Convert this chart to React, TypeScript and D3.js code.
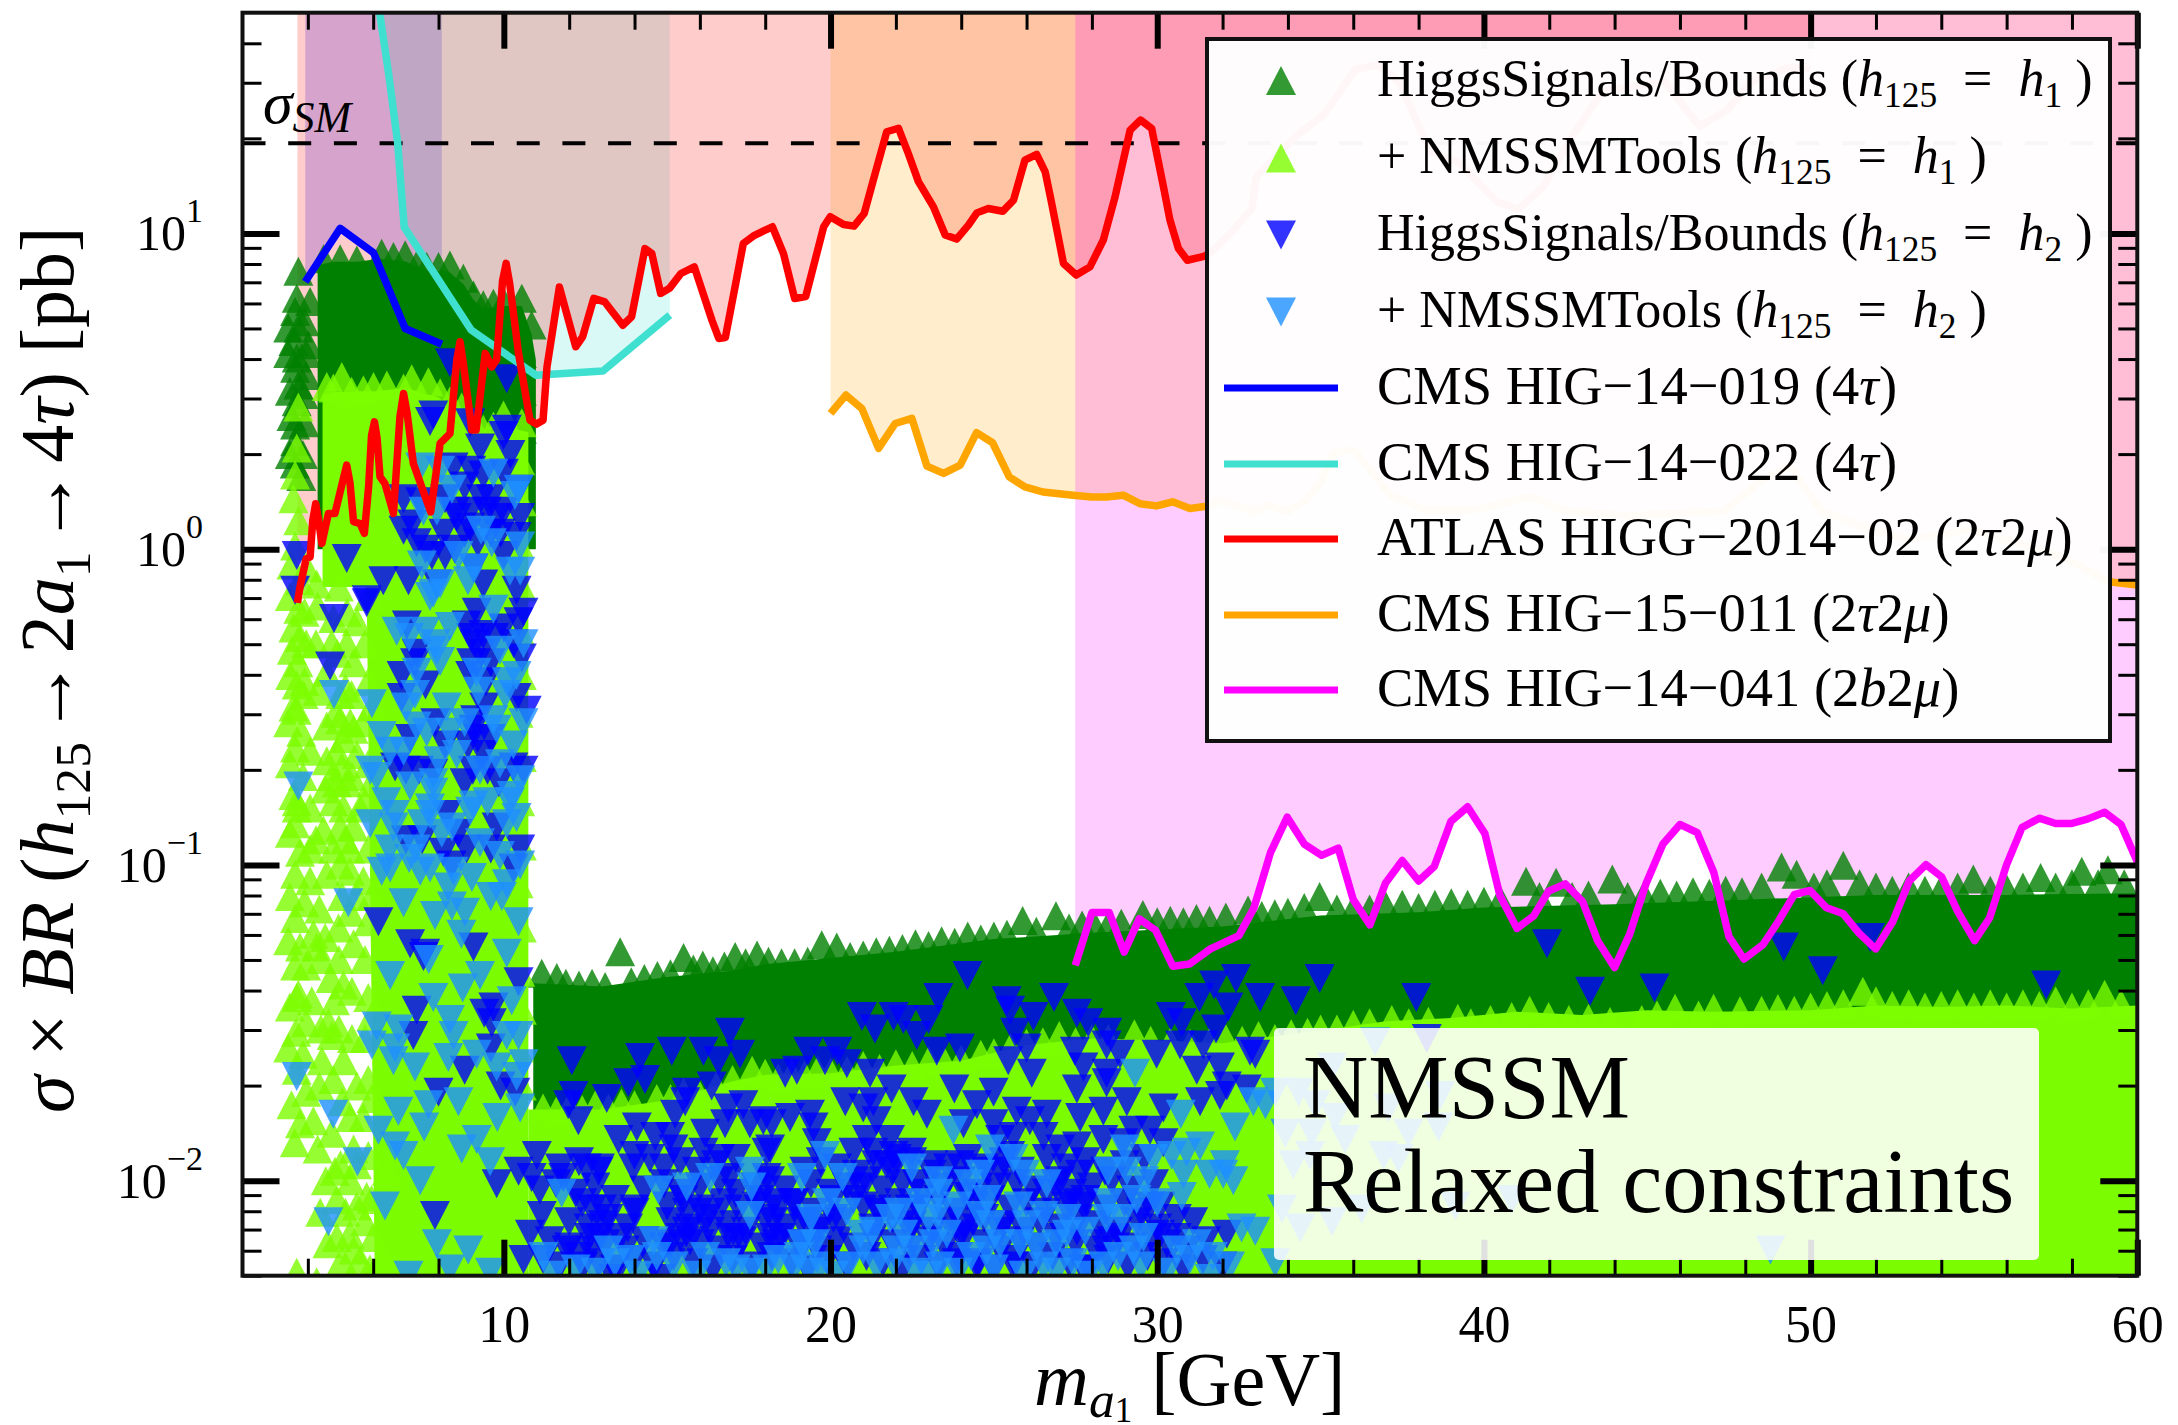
import React, { useRef, useEffect } from 'react';
import * as d3 from 'd3';

// all curves and markers: [m_a1 in GeV, log10(sigma x BR / pb)]
type Pt = [number, number];

const cms019: Pt[] = [[3.92,.847],[4.99,1.016],[6.01,.939],[6.98,.699],[8.1,.649]];
const cms022: Pt[] = [[6.15,1.75],[6.2,1.697],[6.47,1.508],[6.75,1.286],[6.95,1.02],[9.0,.694],[10.98,.551],[13.03,.564],[15.08,.741]];
const atlas: Pt[] = [[3.68,-.17],[3.76,-.12],[3.95,-.03],[4.07,-.025],[4.15,.09],[4.24,.144],[4.33,.09],[4.43,.018],[4.63,.113],[4.83,.113],[5.08,.22],[5.19,.266],[5.29,.21],[5.4,.087],[5.6,.081],[5.73,.05],[5.86,.197],[5.95,.36],[6.04,.403],[6.12,.35],[6.21,.229],[6.36,.208],[6.62,.113],[6.82,.42],[6.93,.493],[7.04,.43],[7.23,.271],[7.76,.118],[8.05,.335],[8.35,.366],[8.56,.6],[8.66,.657],[8.77,.58],[9.02,.377],[9.15,.377],[9.43,.62],[9.63,.577],[9.78,.6],[9.96,.85],[10.07,.905],[10.18,.84],[10.45,.62],[10.8,.408],[11.0,.396],[11.2,.408],[11.32,.577],[11.7,.83],[12.2,.641],[12.41,.672],[12.75,.794],[13.09,.783],[13.64,.709],[13.91,.736],[14.32,.952],[14.53,.936],[14.8,.81],[15.07,.826],[15.42,.873],[15.83,.894],[16.37,.725],[16.58,.667],[16.78,.67],[17.33,.968],[17.67,.994],[18.22,1.021],[18.56,.936],[18.9,.794],[19.24,.8],[19.79,1.021],[19.99,1.053],[20.4,1.028],[20.72,1.023],[21.03,1.063],[21.31,1.169],[21.72,1.322],[22.08,1.333],[22.38,1.253],[22.69,1.164],[23.15,1.084],[23.51,.995],[23.86,.982],[24.22,1.026],[24.48,1.065],[24.83,1.079],[25.27,1.07],[25.6,1.105],[25.95,1.232],[26.31,1.25],[26.57,1.195],[26.75,1.105],[27.13,.905],[27.52,.868],[27.94,.894],[28.35,.979],[28.71,1.116],[29.17,1.327],[29.49,1.359],[29.83,1.332],[30.19,1.148],[30.39,1.042],[30.65,.952],[30.92,.915],[31.46,.928],[31.72,.947],[32.33,1.01],[32.9,1.08],[33.04,1.18],[34.25,1.309],[35.1,1.376],[36.07,1.519],[36.74,1.534],[37.4,1.481],[38.37,1.257],[39.2,1.227],[40.4,1.1],[41.04,1.077],[41.8,1.145],[42.67,1.302],[43.63,1.45],[45.54,1.48],[46.6,1.339],[47.45,1.391],[48.2,1.481],[49.36,1.526],[50.0,1.52]];
const cms011: Pt[] = [[20,.43],[20.47,.488],[20.96,.445],[21.47,.319],[21.98,.398],[22.49,.414],[22.95,.263],[23.46,.24],[23.97,.266],[24.47,.369],[24.96,.337],[25.47,.229],[25.95,.197],[26.5,.181],[27.43,.171],[27.99,.165],[28.45,.165],[28.96,.171],[29.47,.144],[29.98,.137],[30.47,.15],[31,.129],[31.51,.136],[31.92,.155],[32.94,.118],[33.45,.139],[33.96,.118],[34.57,.155],[34.98,.208],[35.39,.303],[35.7,.313],[36.07,.308],[37.12,.173],[38.27,.121],[40,.128],[41.43,.166],[42.48,.121],[44.4,.106],[47.36,.121],[48.41,.21],[49.36,.263],[50.32,.121],[51.66,.068],[53,.031],[54.9,.061],[56.44,.016],[57.78,-.029],[59.12,-.103],[60,-.114]];
const cms041: Pt[] = [[27.49,-1.318],[28,-1.151],[28.53,-1.151],[28.99,-1.276],[29.45,-1.171],[29.95,-1.207],[30.48,-1.321],[30.99,-1.314],[31.63,-1.266],[32.5,-1.224],[32.96,-1.136],[33.47,-.96],[33.98,-.849],[34.5,-.934],[35.03,-.97],[35.54,-.947],[36,-1.11],[36.51,-1.19],[36.99,-1.057],[37.5,-.986],[38,-1.051],[38.48,-1.005],[38.99,-.862],[39.5,-.816],[40.03,-.901],[40.49,-1.097],[41.01,-1.201],[41.52,-1.162],[41.98,-1.083],[42.49,-1.06],[43.02,-1.116],[43.48,-1.24],[44,-1.325],[44.46,-1.22],[44.97,-1.057],[45.48,-.934],[46,-.872],[46.53,-.898],[47.04,-1.025],[47.5,-1.227],[47.96,-1.298],[48.54,-1.253],[49,-1.181],[49.5,-1.094],[49.98,-1.081],[50.49,-1.136],[51,-1.155],[51.48,-1.216],[51.99,-1.266],[52.51,-1.181],[53.02,-1.051],[53.53,-.999],[54.01,-1.038],[54.51,-1.149],[55.02,-1.24],[55.48,-1.168],[56,-.999],[56.47,-.882],[57,-.852],[57.5,-.869],[57.97,-.869],[58.47,-.855],[59,-.833],[59.5,-.872],[60,-.99]];

// regions too dense to separate into markers: [mass, upper log10, lower log10]
const hsLeftDense: [number, number, number][] = [[4.3,.9,0],[4.8,.91,0],[5.5,.91,0],[6.2,.92,0],[7,.91,0],[7.7,.88,0],[8.3,.88,0],[8.76,.84,0],[9.07,.79,0],[9.37,.76,0],[9.99,.77,0],[10.55,.77,0],[10.85,.68,0],[10.98,.6,0]];
const hsBandDense: [number, number, number][] = [[10.9,-1.375,-2.31],[13,-1.385,-2.31],[15,-1.355,-2.31],[17,-1.335,-2.31],[18,-1.315,-2.31],[20,-1.295,-2.31],[22,-1.275,-2.31],[25,-1.235,-2.31],[28,-1.215,-2.31],[32,-1.195,-2.31],[35,-1.16,-2.31],[38,-1.15,-2.31],[40,-1.135,-2.31],[44,-1.125,-2.31],[48,-1.11,-2.31],[52,-1.095,-2.31],[56,-1.095,-2.31],[60,-1.09,-2.31]];
const nmtLeftDense: [number, number, number][] = [[4.45,.49,-.12],[5,.5,-.12],[5.8,.5,-.12],[6.05,.5,-2.31],[7,.51,-2.31],[8,.48,-2.31],[8.7,.42,-2.31],[9.4,.36,-2.31],[10,.39,-2.31],[10.75,.37,-2.31]];
const nmtBandDense: [number, number, number][] = [[10.75,-1.775,-2.31],[13,-1.775,-2.31],[15,-1.745,-2.31],[17,-1.685,-2.31],[18,-1.665,-2.31],[20,-1.66,-2.31],[22,-1.635,-2.31],[24,-1.62,-2.31],[26,-1.57,-2.31],[28,-1.55,-2.31],[30,-1.555,-2.31],[32,-1.565,-2.31],[33,-1.55,-2.31],[35,-1.525,-2.31],[37,-1.495,-2.31],[39,-1.485,-2.31],[41,-1.465,-2.31],[43,-1.475,-2.31],[45,-1.46,-2.31],[47,-1.465,-2.31],[50,-1.46,-2.31],[52,-1.445,-2.31],[54,-1.45,-2.31],[56,-1.445,-2.31],[58,-1.455,-2.31],[60,-1.445,-2.31]];

const hsH1: Pt[] = [
  [3.71,.88],[3.66,.795],[3.61,.753],[3.71,.7],[3.56,.658],[3.66,.605],[3.61,.573],[3.71,.52],[3.66,.467],[3.61,.393],[3.61,.34],[4.07,.784],[4.02,.647],[3.87,.49],
  [3.4,.62],[3.9,.72],[3.45,.5],[3.95,.55],[3.5,.42],[3.9,.4],[3.85,.3],[3.45,.3],[3.4,.7],[3.95,.62],[3.6,.27],[3.8,.23],
  [4.48,.92],[4.99,.92],[5.5,.916],[6.26,.937],[6.62,.927],[6.98,.932],[7.33,.9],[7.64,.895],[8,.895],[8.35,.9],[8.76,.858],[9.07,.805],[9.37,.774],[9.68,.779],[9.99,.784],[10.55,.795],[10.85,.71],[10.55,.62],[10.55,.5],[10.55,.38],
  [11.16,-1.343],[11.62,-1.357],[11.9,-1.375],[12.3,-1.38],[12.7,-1.375],[13.1,-1.385],[13.56,-1.275],[13.9,-1.37],[14.3,-1.36],[14.7,-1.35],[15.1,-1.345],[15.5,-1.293],[15.8,-1.33],[16.09,-1.317],[16.4,-1.335],[16.75,-1.32],[17.08,-1.29],[17.4,-1.31],[17.75,-1.285],[18.1,-1.305],[18.5,-1.31],[18.9,-1.31],[19.3,-1.305],[19.73,-1.253],[20.19,-1.26],[20.6,-1.29],[21,-1.285],[21.4,-1.275],[21.8,-1.27],[22.2,-1.265],[22.6,-1.25],[23,-1.255],[23.4,-1.24],[23.8,-1.245],[24.2,-1.225],[24.6,-1.235],[25,-1.225],[25.4,-1.22],[25.88,-1.176],[26.3,-1.21],[26.9,-1.161],[27.3,-1.2],[27.7,-1.19],[28.1,-1.195],[28.5,-1.19],[28.9,-1.185],[29.56,-1.157],[30,-1.18],[30.4,-1.175],[30.8,-1.18],[31.2,-1.17],[31.6,-1.175],[32.1,-1.165],[32.78,-1.143],[33.2,-1.16],[33.6,-1.155],[34,-1.15],[34.5,-1.135],[34.97,-1.1],[35.5,-1.14],[36,-1.14],[36.5,-1.14],[37,-1.13],[37.5,-1.125],[38,-1.135],[38.5,-1.125],[39,-1.12],[39.5,-1.125],[40,-1.115],[40.5,-1.11],[41.29,-1.052],[41.7,-1.1],[42.21,-1.055],[42.7,-1.1],[43.2,-1.095],[43.93,-1.045],[44.4,-1.1],[44.9,-1.095],[45.4,-1.09],[45.9,-1.095],[46.4,-1.085],[46.9,-1.09],[47.4,-1.08],[47.9,-1.085],[48.5,-1.07],[49.11,-1.007],[49.57,-1.03],[50.1,-1.07],[50.5,-1.06],[51,-1.001],[51.5,-1.06],[52,-1.07],[52.5,-1.08],[53,-1.07],[53.5,-1.08],[54,-1.075],[54.5,-1.07],[54.98,-1.045],[55.5,-1.08],[56,-1.075],[56.5,-1.07],[57.04,-1.04],[57.5,-1.07],[58,-1.06],[58.3,-1.02],[58.8,-1.06],[59.1,-1.015],[59.6,-1.06],
];
const nmtH1: Pt[] = [
  [3.71,.45],[3.66,.32],[3.61,.235],[3.56,.16],[3.71,.09],[3.61,.01],[3.97,-.06],[3.76,-.1],[4.27,-.11],
  [4.58,.515],[5.04,.547],[5.7,.505],[6.01,.515],[6.42,.52],[7.18,.54],[7.69,.53],[8.05,.495],[8.71,.45],[9.37,.38],[9.99,.425],[10.55,.4],[6.93,.51],[5.34,.5],[4.78,.51],[8.35,.47],[9.68,.39],[9.07,.4],
  [3.71,-.19],[3.56,-.25],[3.76,-.28],[3.51,-.32],[3.71,-.36],[3.46,-.4],[3.66,-.43],[3.87,-.46],[3.56,-.5],[3.66,-.51],[3.61,-.63],[4.07,-.64],[4.58,-.67],[3.56,-.78],[3.66,-.8],[4.07,-.82],[4.53,-.76],[4.89,-.74],[3.66,-.82],[3.61,-.87],[4.48,-.89],[4.07,-.95],[3.76,-.96],[3.61,-1.03],[4.07,-1.05],[4.58,-1.03],[4.99,-1],[3.61,-1.17],[4.17,-1.22],[4.53,-1.23],[4.94,-1.2],[3.76,-1.26],[4.27,-1.26],
  [3.45,-.15],[3.9,-.2],[3.5,-.05],[3.95,-.3],[3.4,-.55],[3.9,-.42],[3.45,-.68],[3.8,-.58],[3.45,-.9],[3.85,-.72],[3.45,-1.1],[3.9,-1.12],[3.4,-1.24],[3.95,-1.32],[3.45,-1.45],[3.95,-1.5],[3.4,-1.58],[3.85,-1.6],[3.5,-1.76],[3.95,-1.72],[3.6,-1.88],[4.3,-1.9],[4.4,-1.3],[4.35,-1.7],[4.4,-1.52],[4.25,-.3],[4.3,-.18],[4.3,-.45],[4.25,-.92],[4.35,-1.14],
  [4.78,-.22],[4.73,-.3],[4.58,-.39],[4.99,-.46],[4.58,-.56],[4.99,-.54],[5.4,-.57],[4.89,-.64],[5.04,-.69],[5.19,-.74],[4.78,-.8],[5.09,-.82],[4.99,-.88],[4.78,-.95],[5.29,-.95],[5.29,-1.02],[5.4,-.36],[5.5,-.23],[5.34,-.46],[5.5,-.65],[5.6,-.82],[5.5,-1.1],
  [4.95,-.12],[5.2,-.2],[4.9,-.33],[5.2,-.3],[5.15,-.44],[4.85,-.52],[5.3,-.55],[5.1,-.6],[5.35,-.72],[4.75,-.72],[5.4,-.88],[5.15,-.92],[5.05,-1.1],[5.3,-1.15],[4.95,-1.3],[5.4,-1.25],[4.7,-1.36],[5.35,-1.4],[5.35,-1.55],[4.95,-1.52],[5.5,-1.7],[5.05,-1.75],[5.3,-1.8],[5.5,-1.95],[5.3,-2],[5,-1.95],[5.15,-2.1],[4.6,-2.2],[4.55,-2],[5.05,-2.25],[5.6,-2.25],[5.4,-2.22],
  [5.85,-.15],[5.75,-.3],[5.85,-.42],[5.7,-.55],[5.85,-.68],[5.75,-.8],[5.85,-.95],[5.7,-1.05],[5.85,-1.18],[5.75,-1.3],[5.85,-1.42],[5.75,-1.55],[5.85,-1.68],[5.7,-1.8],[5.85,-1.92],[5.8,-2.05],[6,-2.18],[5.9,-2.28],[5.95,-2.06],[5.95,-1.74],[5.95,-1.48],[5.95,-1.1],[5.95,-.74],[5.95,-.5],
  [3.61,-1.32],[3.71,-1.41],[4.12,-1.43],[3.66,-1.42],[5.09,-1.38],[4.83,-1.43],[4.63,-1.5],[4.73,-1.54],[3.64,-1.53],[4.43,-1.62],[5.09,-1.62],[4.78,-1.68],[3.66,-1.65],[3.76,-1.82],[4.17,-1.81],[4.73,-1.85],[4.83,-1.97],[5.4,-1.9],[4.38,-2.1],[4.89,-2.06],[5.5,-2.08],[4.89,-2.18],[5.29,-2.17],[5.75,-2.13],[3.66,-2.29],[6.36,-2.25],[4.27,-2.32],[5.96,-2.3],[6.42,-1.97],
  [10.5,.28],[10.55,.15],[10.45,.02],[10.55,-.12],[10.5,-.26],[10.55,-.4],[10.45,-.52],[10.55,-.66],[10.5,-.8],[10.55,-.94],[10.45,-1.06],[10.55,-1.2],[10.5,-1.34],[10.55,-1.46],[10.45,-1.58],[10.55,-1.7],
  [11.2,-1.77],[11.6,-1.78],[12,-1.765],[12.4,-1.775],[12.8,-1.76],[13.2,-1.77],[13.6,-1.755],[14,-1.76],[14.68,-1.74],[15.1,-1.74],[15.5,-1.72],[16,-1.73],[16.5,-1.7],[17,-1.68],[17.6,-1.65],[18,-1.66],[18.4,-1.675],[18.8,-1.66],[19.2,-1.665],[19.6,-1.65],[20,-1.655],[20.5,-1.65],[21,-1.635],[21.5,-1.645],[22,-1.63],[22.5,-1.635],[23,-1.62],[23.5,-1.625],[24,-1.615],[24.6,-1.6],[25,-1.595],[25.5,-1.58],[26,-1.565],[26.5,-1.56],[27,-1.54],[27.5,-1.56],[28,-1.55],[28.5,-1.55],[29.3,-1.535],[29.8,-1.555],[30.4,-1.56],[31,-1.565],[31.6,-1.56],[32.1,-1.55],[32.6,-1.555],[33.1,-1.54],[33.6,-1.55],[34.1,-1.535],[34.6,-1.53],[35,-1.52],[35.5,-1.52],[36,-1.505],[36.5,-1.5],[37.18,-1.49],[37.7,-1.5],[38.3,-1.495],[39.2,-1.486],[39.6,-1.5],[40.2,-1.49],[40.85,-1.48],[41.4,-1.46],[41.98,-1.48],[42.6,-1.49],[43.2,-1.486],[43.86,-1.496],[44.83,-1.49],[45.3,-1.475],[45.85,-1.454],[46.57,-1.475],[47.03,-1.454],[47.84,-1.462],[48.5,-1.46],[49,-1.455],[49.5,-1.46],[50,-1.45],[50.5,-1.445],[51,-1.44],[51.6,-1.4],[52,-1.43],[52.5,-1.445],[53,-1.44],[53.5,-1.45],[54,-1.445],[54.5,-1.44],[55,-1.45],[55.5,-1.44],[56,-1.45],[56.5,-1.44],[57,-1.445],[57.5,-1.43],[58,-1.45],[58.5,-1.44],[59,-1.41],[59.5,-1.44],
];
const hsH2: Pt[] = [
  [3.66,-.02],[5.19,-.03],[3.61,-.13],[6.31,-.1],[7.08,-.1],[7.84,.425],[7.74,.404],[8.35,.59],[10.09,.54],[8.97,.4],[10.09,.38],[9.99,.36],[9.27,.32],[8.46,.26],[6.93,.16],[7.44,.15],[9.37,.235],[10.45,.19],[9.99,.12],[9.48,.12],[8.97,.12],[8.56,.1],[6.93,.06],[7.33,.02],[8.15,.05],[8.97,.07],[9.78,.1],[10.39,.04],[9.07,-.06],[9.99,-.02],[10.39,-.13],[7.95,-.11],[5.8,-.17],[9.37,-.11],
  [8.5,.12],[8.8,.05],[9.2,.02],[9.6,.05],[9.9,.05],[8.5,0],[8.2,-.02],[7.8,-.02],[10,.24],[9.6,.16],[9.3,.16],[8.8,.2],[9,.25],[8.2,.16],[7.6,0],[7.2,.08],[10.2,.3],[10.5,.1],
  [5.8,-.16],[4.8,-.22],[4.68,-.37],[7.03,-.24],[7.33,-.33],[7.28,-.36],[6.87,-.4],[6.87,-.47],[9.17,-.2],[10.45,-.23],[8.86,-.24],[9.37,-.27],[10.55,-.345],[8.97,-.4],[9.12,-.54],[10.39,-.47],[10.7,-.51],[9.07,-.57],[9.37,-.65],[7.13,-.6],[6.67,-.69],[7.84,-.71],[10.29,-.69],[8.25,-.84],[9.78,-.88],[8.15,-.96],[8.86,-.95],[10.29,-1.01],[6.16,-1.18],[7.13,-1.25],[9.07,-1.26],[7.54,-1.29],
  [9,-.28],[9.3,-.33],[9.6,-.36],[9.1,-.3],[9.45,-.42],[9,-.36],[9.7,-.28],[10,-.25],[10.3,-.3],[10.6,-.2],[9.4,-.5],[9.6,-.6],[9.2,-.6],[9.5,-.7],[8.9,-.62],[9.05,-.7],[9.85,-.74],[8.6,-.9],[8.4,-1],[9.6,-.95],[7.6,-.43],[7.9,-.55],[8.2,-.62],[7.4,-.7],[7,-.7],[7.5,-.92],[7,-.92],[8.8,-.74],[10.6,-.7],[10.5,-.95],
  [8,-1.72],[8.8,-1.65],[9.4,-1.47],[9.6,-1.58],[9.9,-1.7],[10.35,-1.72],
  [7.59,-1.28],[10.45,-1.37],[7.33,-1.46],[9.68,-1.45],[9.63,-1.5],[7.23,-1.54],[7.89,-2.11],[9.78,-2.01],[11.01,-1.92],[10.45,-1.97],[10.85,-1.99],[11.72,-1.96],[12.54,-1.96],[12.94,-1.96],[11.82,-1.99],[12.69,-2.09],[13.05,-2.14],[14,-2.09],[10.8,-2.17],[11.16,-2.11],[12.08,-1.62],[12.13,-1.73],[11.97,-1.76],[12.28,-1.81],[13.15,-1.74],[14.17,-1.61],[15.14,-1.59],[16.11,-1.59],[16.92,-1.53],[17.23,-1.6],[13.81,-1.69],[14.32,-1.68],[16.57,-1.62],[16.36,-1.7],[15.6,-1.72],[15.55,-1.75],[15.24,-1.79],[17.33,-1.76],[16.87,-1.77],[14.07,-1.83],[13.51,-1.87],[14.63,-1.86],[15.09,-1.86],[16.16,-1.85],[16.77,-1.82],[17.53,-1.82],[14,-1.92],[14.47,-1.93],[15.19,-1.9],[16.11,-1.91],[16.62,-1.93],[13.96,-1.96],[12.94,-2.18],[13.56,-2.18],[15.6,-2.1],[16.31,-2.1],[15.6,-2.16],[16.31,-2.16],[15.09,-2.2],[15.7,-2.19],[16.92,-2.18],[11.92,-2.22],[12.64,-2.22],[10.6,-2.25],[18.04,-1.91],[17.94,-1.81],[18.04,-1.99],[16.92,-1.99],[17.74,-2.08],[17.13,-2.18],[18.15,-2.18],[13.35,-2.31],[14.78,-2.31],[12.43,-2.27],
  [24.19,-1.35],[23.3,-1.42],[25.39,-1.43],[26.84,-1.42],[32.41,-1.36],[31.74,-1.38],[31.29,-1.42],[32.18,-1.45],[33.15,-1.42],[20.96,-1.48],[21.93,-1.48],[22.23,-1.49],[23,-1.49],[21.36,-1.52],[25.5,-1.46],[26.21,-1.48],[27.54,-1.47],[27.89,-1.5],[25.65,-1.53],[28.47,-1.53],[30.42,-1.48],[30.75,-1.5],[31.8,-1.52],[23.96,-1.58],[23.25,-1.59],[22.64,-1.54],[19.32,-1.59],[20.21,-1.59],[20.5,-1.63],[19.83,-1.62],[18.97,-1.65],[18.61,-1.66],[21.21,-1.66],[26,-1.58],[25.44,-1.62],[28.45,-1.57],[28.86,-1.6],[27.48,-1.59],[29.98,-1.6],[30.7,-1.57],[31.41,-1.57],[32.84,-1.59],[31.92,-1.64],[31.21,-1.65],[26.16,-1.66],[21.87,-1.71],[23.79,-1.71],[24.99,-1.72],[27.74,-1.64],[28.45,-1.66],[27.54,-1.71],[28.45,-1.69],[29.07,-1.75],[30.19,-1.77],[31.31,-1.75],[32.13,-1.7],[31.92,-1.73],[32.74,-1.71],[22.54,-1.75],[21.31,-1.75],[20.45,-1.75],[21,-1.77],[19.37,-1.79],[18.76,-1.8],[18.2,-1.82],[21.41,-1.81],[22.95,-1.79],[24.07,-1.82],[24.48,-1.76],[25.7,-1.78],[26.62,-1.79],[27.64,-1.8],[28.35,-1.78],[29.27,-1.84],[29.78,-1.84],[30.19,-1.88],[24.99,-1.82],[26.1,-1.81],[21.82,-1.87],[21.11,-1.87],[19.48,-1.83],[18.15,-1.9],[19.58,-1.88],[21.93,-1.92],[21.31,-1.91],[20.7,-1.91],[22.49,-1.91],[25.19,-1.87],[25.6,-1.86],[26.52,-1.86],[27.54,-1.89],[28.35,-1.87],[28.96,-1.88],[27.64,-1.98],[26.62,-1.93],[21.72,-1.95],[22.03,-1.93],[23.15,-1.95],[18.15,-2],[20.91,-2.02],[20.7,-2.06],[18.87,-2.07],[18.25,-2.07],[23.96,-1.95],[24.78,-1.97],[25.5,-1.92],[31.1,-2.13],[29.78,-2.08],[30.6,-2.18],[30.09,-2.17],[19.27,-2.13],[18.25,-2.13],[21.41,-2.09],[22.43,-2.09],[24.17,-2.05],[25.19,-1.97],[27.03,-2],[27.74,-2.08],[28.35,-2.2],[32.13,-2.17],[18.35,-2.2],[19.58,-2.16],[19.17,-2.2],[23.86,-2.26],[24.48,-2.27],[28.86,-2.18],[27.03,-1.9],[26.62,-2.04],[27.33,-2.07],[27.54,-2.16],[24.37,-2.13],[25.19,-2.16],[23.96,-2.17],[22.43,-2.16],[22.64,-2.01],[20.09,-2.12],[25.6,-2.27],[27.74,-2.28],
  [12.3,-1.94],[12.9,-1.97],[14.9,-1.96],[15.4,-1.94],[15.9,-1.97],[16.5,-1.95],[17.1,-1.93],[19.2,-1.97],[19.7,-1.94],[20.2,-1.96],[20.8,-1.98],[21.4,-1.95],[21.9,-1.97],[22.5,-1.94],[23.1,-1.98],[23.6,-1.96],[24.2,-1.93],[24.7,-1.96],[25.3,-1.94],[25.8,-1.97],[27.2,-1.96],[27.8,-1.94],[28.4,-1.97],[29,-1.95],[29.6,-1.93],
  [11.1,-2.03],[11.6,-2.01],[12.2,-2.04],[12.8,-2.02],[14.3,-2.03],[14.9,-2.01],[15.4,-2.04],[16,-2.02],[16.6,-2],[17.1,-2.04],[17.7,-2.02],[18.6,-2.03],[19.4,-2.01],[20,-2.04],[20.5,-2.02],[21.1,-2],[21.6,-2.03],[22.2,-2.01],[22.8,-2.04],[23.5,-2.02],[24,-2],[24.5,-2.04],[25.1,-2.02],[25.7,-2.01],[26.2,-2.03],[26.9,-2.01],[27.4,-2.04],[28,-2.02],[28.6,-2],[29.2,-2.03],[29.9,-2.01],
  [12.4,-2.07],[13,-2.09],[13.4,-2.06],[14,-2.1],[15,-2.08],[15.5,-2.06],[16,-2.09],[16.7,-2.07],[17.2,-2.09],[17.8,-2.06],[18.4,-2.09],[18.9,-2.07],[19.5,-2.1],[20.1,-2.06],[21,-2.08],[21.5,-2.1],[22.1,-2.07],[22.7,-2.09],[23.3,-2.06],[23.8,-2.1],[24.4,-2.08],[24.9,-2.06],[25.5,-2.09],[26,-2.07],[26.6,-2.1],[27.2,-2.08],[27.8,-2.06],[28.4,-2.09],[29,-2.07],[29.5,-2.1],[30.1,-2.08],
  [12,-2.13],[12.6,-2.15],[13.2,-2.12],[13.8,-2.15],[15.1,-2.13],[15.7,-2.15],[16.2,-2.12],[16.8,-2.14],[17.4,-2.16],[18,-2.12],[18.6,-2.15],[19.1,-2.13],[19.7,-2.15],[20.3,-2.13],[21.3,-2.15],[21.9,-2.12],[22.5,-2.14],[23.1,-2.16],[23.6,-2.13],[24.1,-2.15],[24.7,-2.12],[25.3,-2.14],[25.9,-2.16],[26.4,-2.13],[27,-2.15],[27.6,-2.12],[28.2,-2.14],[28.8,-2.16],[29.4,-2.13],[30,-2.15],[30.6,-2.12],
  [11.4,-2.19],[12,-2.21],[12.6,-2.18],[13.1,-2.2],[13.7,-2.22],[14.3,-2.19],[14.9,-2.21],[15.4,-2.18],[16,-2.2],[16.6,-2.22],[17.3,-2.19],[17.9,-2.21],[18.5,-2.18],[19,-2.2],[19.6,-2.22],[20.2,-2.19],[20.7,-2.21],[21.3,-2.18],[21.9,-2.2],[22.4,-2.22],[23,-2.19],[23.5,-2.21],[24.1,-2.18],[24.7,-2.2],[25.2,-2.22],[25.8,-2.19],[26.3,-2.21],[26.9,-2.18],[27.5,-2.2],[28.1,-2.22],[28.6,-2.19],[29.2,-2.21],[29.8,-2.18],[30.3,-2.2],[30.9,-2.22],[31.5,-2.19],
  [11.2,-2.25],[11.7,-2.27],[12.3,-2.24],[12.9,-2.26],[13.4,-2.28],[14,-2.25],[14.6,-2.27],[15.2,-2.24],[15.8,-2.26],[16.4,-2.28],[17,-2.25],[17.6,-2.27],[18.2,-2.24],[18.8,-2.26],[19.3,-2.28],[19.9,-2.25],[20.5,-2.27],[21.1,-2.24],[21.6,-2.26],[22.2,-2.28],[22.8,-2.25],[23.3,-2.27],[23.9,-2.24],[24.5,-2.26],[25,-2.28],[25.6,-2.25],[26.2,-2.27],[26.8,-2.24],[27.3,-2.26],[27.9,-2.28],[28.5,-2.25],[29.1,-2.27],[29.7,-2.24],[30.2,-2.26],[30.8,-2.28],[31.4,-2.25],[32,-2.27],
  [34.24,-1.43],[34.97,-1.36],[37.93,-1.42],[41.93,-1.25],[43.25,-1.4],[45.22,-1.39],[38.25,-1.55],[33,-1.6],[49.18,-1.26],[50.37,-1.335],[51.82,-1.23],[57.21,-1.38],
];
const nmtH2: Pt[] = [
  [7.44,.26],[8.05,.25],[9.68,.24],[8.41,.19],[7.54,.12],[7.95,.12],[10.45,.19],[10.34,.17],[9.63,.02],[10.5,.01],[7.49,-.05],[8.61,-.02],[9.07,-.06],[8.05,-.11],[10.19,-.07],[10.5,-.07],[7.74,-.15],
  [7.84,-.14],[6.72,-.26],[7.59,-.26],[8.35,-.245],[7.95,-.32],[8.05,-.356],[9.68,-.19],[9.88,-.32],[9.17,-.39],[10.09,-.42],[10.39,-.4],[9.22,-.45],[10.04,-.46],[7.33,-.39],[7.28,-.46],[4.8,-.46],[5.96,-.49],[8.25,-.5],[9.68,-.54],[10.6,-.55],[9.78,-.57],[7.33,-.56],[6.26,-.59],[7.64,-.58],[8.35,-.58],[6.93,-.64],[6.52,-.64],[8,-.67],[8.56,-.65],[10.29,-.62],[9.27,-.7],[9.88,-.68],[5.91,-.7],[3.71,-.75],[7.13,-.75],[7.84,-.74],[10.5,-.73],[10.24,-.78],[7.84,-.77],[9.07,-.81],[8.97,-.83],[10.19,-.8],[7.74,-.82],[7.74,-.84],[6.67,-.84],[10.39,-.85],[5.91,-.87],[6.62,-.88],[7.49,-.87],[8.41,-.88],[10.09,-.87],[9.27,-.93],[9.88,-.97],[6.52,-1.01],[6.26,-1.02],[7.44,-1.02],[7.74,-1.01],[8.46,-1.02],[9.02,-1.04],[8.3,-1.07],[10.09,-1.06],[9.94,-1.1],[5.24,-1.12],[6.93,-1.12],[7.89,-1.16],[8.41,-1.13],[8.81,-1.15],[10.45,-1.18],[10.09,-1.28],
  [6.1,-.72],[6.4,-.8],[7,-.5],[6.5,-.95],[7.1,-.98],[8.8,-.55],[9.5,-.8],[8.1,-.9],[7.3,-.95],[9.6,-1.1],[8.7,-1.22],[7.7,-1.3],[10.5,-1],[10.6,-.3],[8.9,-.1],[9.3,.06],[7.9,-.3],[7.1,-.28],
  [3.66,-1.67],[4.78,-1.79],[6.52,-1.35],[7.84,-1.42],[8.74,-1.39],[9.27,-1.35],[10.24,-1.43],[6.11,-1.51],[6.77,-1.52],[5.96,-1.57],[6.67,-1.58],[6.62,-1.62],[7.28,-1.64],[8.3,-1.61],[8.46,-1.54],[8.35,-1.49],[9.17,-1.6],[9.78,-1.64],[10.09,-1.54],[10.45,-1.54],[10.6,-1.63],[10.39,-1.67],[7.69,-1.76],[8.61,-1.75],[6.77,-1.78],[7.56,-1.83],[9.8,-1.8],[10.5,-1.77],[6.16,-1.84],[6.67,-1.89],[6.93,-1.92],[5.52,-1.94],[7.44,-2],[6.36,-2.08],[4.63,-2.13],[7.95,-2.2],[8.91,-2.22],[7.08,-2.3],[8.35,-2.28],[9.58,-2.29],[9.58,-1.94],[8.71,-1.9],[9.17,-1.87],[11.77,-2.04],[11.21,-2.24],[13.2,-2.22],[14.73,-2.03],[15.6,-2.02],[16.31,-1.99],[17.53,-1.97],[17.58,-2.02],[17.53,-2.11],[14.58,-2.19],[13.86,-2.25],[14.68,-2.24],[16.16,-2.24],[17.53,-2.29],
  [29.32,-1.66],[30.72,-1.79],[32.38,-1.83],[32.94,-1.75],[23.76,-1.84],[24.88,-1.9],[25.6,-1.93],[22.49,-1.96],[19.83,-1.92],[19.12,-1.99],[20.37,-1.99],[19.89,-2.07],[25.95,-1.98],[26.62,-2.01],[24.58,-1.98],[24.22,-2.01],[23.3,-2],[23.3,-2.04],[24.78,-2.06],[22.74,-2.07],[23.3,-2.1],[21.82,-2.12],[24.58,-2.11],[25.75,-2.08],[26.52,-2.11],[27.23,-2.12],[27.23,-2.17],[28.5,-2.07],[28.45,-2.12],[29.37,-2.06],[29.01,-1.9],[28.5,-1.97],[29.07,-1.97],[29.88,-1.93],[30.9,-1.91],[31.31,-1.89],[30.44,-1.92],[32.07,-1.95],[32.02,-1.98],[32.33,-2],[30.75,-2.05],[32.58,-2.15],[20.91,-2.17],[21,-2.22],[19.12,-2.2],[19.53,-2.2],[19.02,-2.24],[18.87,-2.28],[19.37,-2.29],[22.23,-2.17],[22.03,-2.22],[22.54,-2.22],[23.15,-2.2],[23.56,-2.17],[25.19,-2.2],[23.35,-2.27],[26.52,-2.27],[26.31,-2.21],[27.43,-2.26],[29.58,-2.18],[29.27,-2.22],[31.21,-2.2],[31,-2.25],[32.23,-2.27],[28.35,-2.27],[20.55,-2.27],[18.05,-2.28],[21.93,-2.26],[31.61,-2.31],[24.78,-2.22],[25.8,-2.2],
  [11.5,-2.3],[12.2,-2.28],[12.8,-2.29],[13.4,-2.26],[14.1,-2.3],[15.2,-2.27],[15.9,-2.3],[16.8,-2.26],[17.1,-2.28],[18.4,-2.25],[19.7,-2.27],[20.1,-2.3],[21.4,-2.27],[22.6,-2.29],[23,-2.3],[23.9,-2.29],[24.3,-2.24],[25,-2.28],[25.9,-2.3],[26.9,-2.29],[27.9,-2.3],[28.8,-2.24],[29.5,-2.27],[30.3,-2.29],[30.6,-2.22],[31.7,-2.24],[19.4,-2.12],[20.5,-2.1],[21.3,-2.16],[22.1,-2.1],[23,-2.12],[23.9,-2.08],[24.9,-2.14],[26,-2.14],[26.9,-2.2],[27.8,-2.16],[28.9,-2.12],[30,-2.07],[30.8,-1.98],[31.6,-1.98],[29.6,-2],
  [36.67,-1.56],[35.35,-1.64],[34.33,-1.72],[33.61,-1.72],[38.66,-1.73],[34.84,-1.76],[37.08,-1.77],[35.45,-1.8],[33.92,-1.85],[34.73,-1.85],[35.75,-1.87],[37.69,-1.85],[38.61,-1.83],[36.93,-1.92],[37.39,-1.93],[34.68,-1.92],[34.17,-1.95],[36.26,-2.09],[33.82,-2.09],[34.38,-2.15],[35.35,-2.13],[39.12,-2.08],[40.85,-2.06],[33.61,-2.26],[33,-2.16],[33.31,-1.76],[48.77,-2.22],
];

const sigmaSM = 19.3;
const xMajor = [10, 20, 30, 40, 50, 60];
const xMinor = [4, 6, 8, 12, 14, 16, 18, 22, 24, 26, 28, 32, 34, 36, 38, 42, 44, 46, 48, 52, 54, 56, 58];
const yMajor = [0.01, 0.1, 1, 10];
const yMinor = [0.005, 0.006, 0.007, 0.008, 0.009, 0.02, 0.03, 0.04, 0.05, 0.06, 0.07, 0.08, 0.09, 0.2, 0.3, 0.4, 0.5, 0.6, 0.7, 0.8, 0.9, 2, 3, 4, 5, 6, 7, 8, 9, 20, 30, 40];
const yExponents = ['−2', '−1', '0', '1'];

const darkGreen = 'green', lightGreen = 'lawngreen', blue = 'blue', lightBlue = 'dodgerblue';

// text pieces: [string, kind] with '' plain, 'i' italic, 's' subscript
type Seg = [string, string];
const legendRows: { up?: boolean; color: string; base: number; label: Seg[] }[] = [
  { up: true, color: darkGreen, base: 95.5, label: [['HiggsSignals/Bounds (', ''], ['h', 'i'], ['125', 's'], ['  =  ', ''], ['h', 'i'], ['1', 's'], [' )', '']] },
  { up: true, color: lightGreen, base: 173, label: [['+ NMSSMTools (', ''], ['h', 'i'], ['125', 's'], ['  =  ', ''], ['h', 'i'], ['1', 's'], [' )', '']] },
  { up: false, color: blue, base: 250, label: [['HiggsSignals/Bounds (', ''], ['h', 'i'], ['125', 's'], ['  =  ', ''], ['h', 'i'], ['2', 's'], [' )', '']] },
  { up: false, color: lightBlue, base: 327, label: [['+ NMSSMTools (', ''], ['h', 'i'], ['125', 's'], ['  =  ', ''], ['h', 'i'], ['2', 's'], [' )', '']] },
  { color: 'blue', base: 404, label: [['CMS HIG−14−019 (4', ''], ['τ', 'i'], [')', '']] },
  { color: 'turquoise', base: 480, label: [['CMS HIG−14−022 (4', ''], ['τ', 'i'], [')', '']] },
  { color: 'red', base: 555, label: [['ATLAS HIGG−2014−02 (2', ''], ['τ', 'i'], ['2', ''], ['μ', 'i'], [')', '']] },
  { color: 'orange', base: 631, label: [['CMS HIG−15−011 (2', ''], ['τ', 'i'], ['2', ''], ['μ', 'i'], [')', '']] },
  { color: 'magenta', base: 706, label: [['CMS HIG−14−041 (2', ''], ['b', 'i'], ['2', ''], ['μ', 'i'], [')', '']] },
];
const yTitle: Seg[] = [['σ', 'i'], [' × ', ''], ['BR', 'i'], [' (', ''], ['h', 'i'], ['125', 's'], ['\u200a→\u200a2', ''], ['a', 'i'], ['1', 's'], ['\u200a→\u200a4', ''], ['τ', 'i'], [') [pb]', '']];
const xTitle: Seg[] = [['m', 'i'], ['a', 'si'], ['1', 'ss'], [' [GeV]', '']];

const serif = '"Liberation Serif", "Times New Roman", serif';

const App = () => {
  const svgRef = useRef<SVGSVGElement>(null);

  useEffect(() => {
    const svg = d3.select(svgRef.current);
    svg.selectAll('*').remove();

    const left = 242.5, right = 2137.3, top = 12.7, bottom = 1275.7;
    const x = d3.scaleLinear().domain([2, 60]).range([left, right]);
    const y = d3.scaleLog().domain([0.005, 50]).range([bottom, top]);
    const yl = (lg: number) => y(Math.pow(10, lg));

    svg.append('defs').append('clipPath').attr('id', 'plot')
      .append('rect').attr('x', left).attr('y', top).attr('width', right - left).attr('height', bottom - top);

    const plot = svg.append('g').attr('clip-path', 'url(#plot)');

    // excluded regions, filled from each limit up to the top of the axes
    const limitArea = d3.area<Pt>().x(d => x(d[0])).y0(top).y1(d => yl(d[1]));
    const limitLine = d3.line<Pt>().x(d => x(d[0])).y(d => yl(d[1]));
    [[cms019, 'blue'], [cms022, 'turquoise'], [atlas, 'red'], [cms011, 'orange'], [cms041, 'magenta']].forEach(([pts, color]: any) => {
      plot.append('path').attr('d', limitArea(pts)).attr('fill', color).attr('fill-opacity', 0.2);
    });

    // dense parts of the scatter, then the single markers on top
    const denseArea = d3.area<[number, number, number]>().x(d => x(d[0])).y0(d => yl(d[2])).y1(d => yl(d[1]));
    const markers = (pts: Pt[], color: string, up: boolean) => {
      plot.append('g').selectAll('path').data(pts).join('path')
        .attr('d', up ? 'M0,-14.5L15,14.5L-15,14.5Z' : 'M0,14.5L15,-14.5L-15,-14.5Z')
        .attr('transform', d => `translate(${x(d[0])},${yl(d[1])})`)
        .attr('fill', color).attr('fill-opacity', 0.8);
    };
    plot.append('path').attr('d', denseArea(hsLeftDense)).attr('fill', darkGreen);
    plot.append('path').attr('d', denseArea(hsBandDense)).attr('fill', darkGreen);
    markers(hsH1, darkGreen, true);
    plot.append('path').attr('d', denseArea(nmtLeftDense)).attr('fill', lightGreen);
    plot.append('path').attr('d', denseArea(nmtBandDense)).attr('fill', lightGreen);
    markers(nmtH1, lightGreen, true);
    markers(hsH2, blue, false);
    markers(nmtH2, lightBlue, false);

    // sigma_SM reference
    plot.append('line').attr('x1', left).attr('x2', right).attr('y1', y(sigmaSM)).attr('y2', y(sigmaSM))
      .attr('stroke', 'black').attr('stroke-width', 4).attr('stroke-dasharray', '23 22.7');

    [[cms019, 'blue'], [cms022, 'turquoise'], [atlas, 'red'], [cms011, 'orange'], [cms041, 'magenta']].forEach(([pts, color]: any) => {
      plot.append('path').attr('d', limitLine(pts)).attr('fill', 'none').attr('stroke', color)
        .attr('stroke-width', 7.5).attr('stroke-linejoin', 'round');
    });

    // ticks on all four sides
    const tickGroup = (axis: any, transform: string, w: number, labelled = false) => {
      const g = svg.append('g').attr('transform', transform).call(axis);
      g.select('.domain').remove();
      g.selectAll('.tick line').attr('stroke', 'black').attr('stroke-width', w);
      if (!labelled) g.selectAll('.tick text').remove();
      return g;
    };
    tickGroup(d3.axisBottom(x).tickValues(xMinor).tickSize(-17), `translate(0,${bottom})`, 3);
    tickGroup(d3.axisTop(x).tickValues(xMinor).tickSize(-17), `translate(0,${top})`, 3);
    tickGroup(d3.axisTop(x).tickValues(xMajor).tickSize(-36), `translate(0,${top})`, 6);
    const xAxis = tickGroup(d3.axisBottom(x).tickValues(xMajor).tickSize(-36).tickPadding(29).tickFormat(d3.format('d')), `translate(0,${bottom})`, 6, true);
    xAxis.selectAll('text').attr('font-family', serif).attr('font-size', 52).attr('fill', 'black');
    tickGroup(d3.axisLeft(y).tickValues(yMinor).tickSize(-19), `translate(${left},0)`, 3);
    tickGroup(d3.axisRight(y).tickValues(yMinor).tickSize(-19), `translate(${right},0)`, 3);
    tickGroup(d3.axisLeft(y).tickValues(yMajor).tickSize(-37), `translate(${left},0)`, 6);
    tickGroup(d3.axisRight(y).tickValues(yMajor).tickSize(-37), `translate(${right},0)`, 6);

    svg.append('rect').attr('x', left).attr('y', top).attr('width', right - left).attr('height', bottom - top)
      .attr('fill', 'none').attr('stroke', '#111').attr('stroke-width', 4);

    yMajor.forEach((v, i) => {
      const t = svg.append('text').attr('x', 203).attr('y', y(v) + 17).attr('text-anchor', 'end')
        .attr('font-family', serif).attr('font-size', 50).attr('fill', 'black');
      t.append('tspan').text('10');
      t.append('tspan').attr('dy', -28).attr('font-size', 34).text(yExponents[i]);
    });

    // writes pieces of mixed italic and subscript text into a <text>
    const writeSegs = (t: any, segs: Seg[], size: number) => {
      let lifted = 0;
      segs.forEach(([str, kind]) => {
        let level = 0, scale = 1;
        if (kind === 's') { level = 0.22; scale = 0.68; }
        if (kind === 'si') { level = 0.16; scale = 0.68; }
        if (kind === 'ss') { level = 0.23; scale = 0.46; }
        const shift = level * size - lifted;
        lifted = level * size;
        t.append('tspan').attr('dy', shift).attr('font-size', size * scale)
          .attr('font-style', kind === 'i' || kind === 'si' ? 'italic' : 'normal')
          .style('white-space', 'pre').text(str);
      });
    };

    const sm = svg.append('text').attr('x', 263).attr('y', 123).attr('font-family', serif).attr('font-style', 'italic').attr('fill', 'black');
    sm.append('tspan').attr('font-size', 60).text('σ');
    sm.append('tspan').attr('font-size', 44).attr('dy', 9).text('SM');

    const xt = svg.append('text').attr('x', 1034).attr('y', 1405).attr('font-family', serif).attr('fill', 'black');
    writeSegs(xt, xTitle, 76);
    const yt = svg.append('text').attr('transform', 'translate(73,1113) rotate(-90)').attr('font-family', serif).attr('fill', 'black');
    writeSegs(yt, yTitle, 76);

    // note box
    svg.append('rect').attr('x', 1274).attr('y', 1028).attr('width', 765).attr('height', 232).attr('rx', 5)
      .attr('fill', 'white').attr('fill-opacity', 0.88);
    [['NMSSM', 1118], ['Relaxed constraints', 1212]].forEach(([s, by]: any) => {
      svg.append('text').attr('x', 1303).attr('y', by).attr('font-family', serif).attr('font-size', 90.5).attr('fill', 'black').text(s);
    });

    // legend
    svg.append('rect').attr('x', 1207).attr('y', 39).attr('width', 903).attr('height', 702)
      .attr('fill', 'white').attr('fill-opacity', 0.97).attr('stroke', '#111').attr('stroke-width', 4);
    legendRows.forEach(row => {
      if (row.up !== undefined) {
        svg.append('path').attr('d', row.up ? 'M0,-14.5L15,14.5L-15,14.5Z' : 'M0,14.5L15,-14.5L-15,-14.5Z')
          .attr('transform', `translate(1281,${row.base - 15})`).attr('fill', row.color).attr('fill-opacity', 0.8);
      } else {
        svg.append('line').attr('x1', 1224).attr('x2', 1338).attr('y1', row.base - 16).attr('y2', row.base - 16)
          .attr('stroke', row.color).attr('stroke-width', 7);
      }
      const t = svg.append('text').attr('x', 1377).attr('y', row.base).attr('font-family', serif).attr('fill', 'black');
      writeSegs(t, row.label, row.up !== undefined ? 52 : 54.5);
    });
  }, []);

  return <svg ref={svgRef} width={2178} height={1425} style={{ position: 'absolute', left: 0, top: 0, background: 'white' }}></svg>;
};

export default App;
